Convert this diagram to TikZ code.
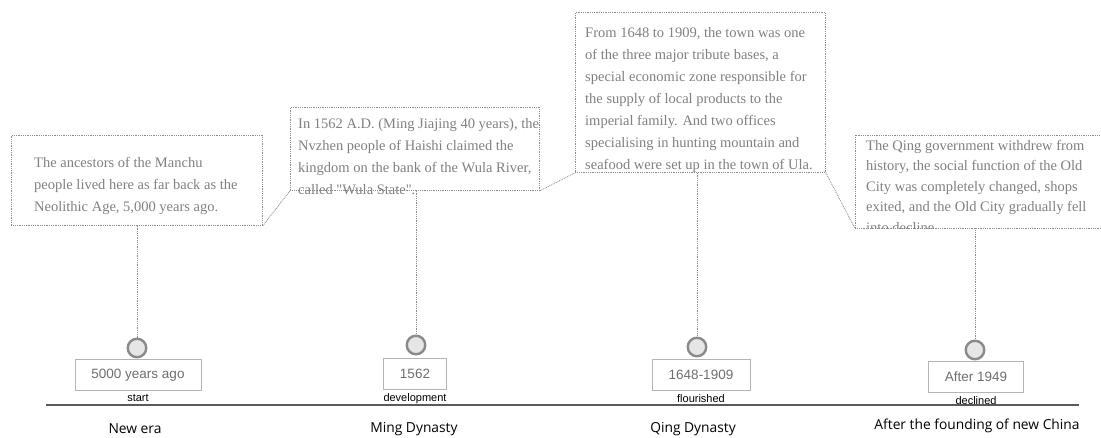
\documentclass[tikz,border=0pt]{standalone}
\usepackage{fontspec}
\setmainfont{Liberation Serif}
\setsansfont{Liberation Sans}
\newfontfamily\erafont{Open Sans}
\usepackage{xcolor}
\usepackage{tikz}
\usetikzlibrary{positioning}

\definecolor{notegray}{HTML}{808080}
\definecolor{linegray}{HTML}{8C8C8C}
\definecolor{dategray}{HTML}{6E6E6E}
\definecolor{boxgray}{HTML}{B4B4B4}
\definecolor{ringgray}{HTML}{8A8A8A}
\definecolor{ringfill}{HTML}{E6E6E6}
\definecolor{axisgray}{HTML}{5A5A5A}

\begin{document}
\begin{tikzpicture}[
    x=1pt, y=-1pt,
    note/.style={draw=linegray, dash pattern=on 0.9pt off 0.9pt, line width=0.8pt, inner sep=0pt, anchor=north west},
    notetext/.style={text=notegray, font=\fontsize{14.5}{22}\selectfont, align=left, inner sep=0pt, anchor=north west},
    stem/.style={draw=linegray, dash pattern=on 0.9pt off 0.9pt, line width=0.8pt},
    ring/.style={circle, draw=ringgray, fill=ringfill, line width=2.4pt, minimum size=18.5pt, inner sep=0pt},
    datebox/.style={rectangle, draw=boxgray, line width=0.8pt, text=dategray, font=\sffamily\fontsize{13.5}{16}\selectfont, minimum height=31pt},
    phase/.style={font=\sffamily\fontsize{11}{13}\selectfont, inner sep=1pt},
    era/.style={font=\erafont\fontsize{13.8}{16}\selectfont}
]
\useasboundingbox (0,0) rectangle (1101,437);

% Note boxes
\node[note, minimum width=251pt, minimum height=90pt] (note1) at (11,135) {};
\node[note, minimum width=249pt, minimum height=83pt] (note2) at (290,107) {};
\node[note, minimum width=250pt, minimum height=160pt] (note3) at (575,12) {};
\node[inner sep=0pt, anchor=north west, minimum width=246pt, minimum height=93pt] (note4) at (855,135) {};
\draw[stem] (note4.north east) -- (note4.north west) -- (note4.south west) -- (note4.south east);

% Note texts
\node[notetext] (text1) at (34,157) {The ancestors of the Manchu\\people lived here as far back as the\\Neolithic Age, 5,000 years ago.};
\node[notetext] (text2) at (298,118) {In 1562 A.D. (Ming Jiajing 40 years), the\\Nvzhen people of Haishi claimed the\\kingdom on the bank of the Wula River,\\called \textquotedbl Wula State\textquotedbl.};
\node[notetext] (text3) at (585,27) {From 1648 to 1909, the town was one\\of the three major tribute bases, a\\special economic zone responsible for\\the supply of local products to the\\imperial family. And two offices\\specialising in hunting mountain and\\seafood were set up in the town of Ula.};
\begin{scope}
\clip (855,130) rectangle (1101,228);
\node[notetext, font=\fontsize{14.5}{20.5}\selectfont] (text4) at (866,140) {The Qing government withdrew from\\history, the social function of the Old\\City was completely changed, shops\\exited, and the Old City gradually fell\\into decline.};
\end{scope}

% Links between notes
\draw[stem] (note1.south east) -- (note2.south west);
\draw[stem] (note2.south east) -- (note3.south west);
\draw[stem] (note3.south east) -- (note4.south west);

% Dates
\node[datebox, minimum width=126pt] (date1) at (138,375) {5000 years ago};
\node[datebox, minimum width=63pt] (date2) at (415,374) {1562};
\node[datebox, minimum width=98pt] (date3) at (701,375) {1648-1909};
\node[datebox, minimum width=95pt] (date4) at (976,377) {After 1949};

% Rings
\node[ring] (ring1) at (137,348) {};
\node[ring] (ring2) at (416,345) {};
\node[ring] (ring3) at (697,347) {};
\node[ring] (ring4) at (975,350) {};

% Stems
\draw[stem] (ring1.north |- note1.south) -- (ring1.north);
\draw[stem] (ring2.north |- note2.south) -- (ring2.north);
\draw[stem] (ring3.north |- note3.south) -- (ring3.north);
\draw[stem] (ring4.north |- note4.south) -- (ring4.north);

% Phases
\node[phase, below=2pt of date1] (phase1) {start};
\node[phase, below=2pt of date2] (phase2) {development};
\node[phase, below=2pt of date3] (phase3) {flourished};
\node[phase, below=2pt of date4] (phase4) {declined};

% Axis
\coordinate (axisL) at (46,405);
\coordinate (axisR) at (1079,405);
\draw[axisgray, line width=1.2pt] (axisL) -- (axisR);

% Eras
\node[era] (era1) at (135,429) {New era};
\node[era] (era2) at (414,429) {Ming Dynasty};
\node[era] (era3) at (693,429) {Qing Dynasty};
\node[era] (era4) at (977,426) {After the founding of new China};

\end{tikzpicture}
\end{document}
